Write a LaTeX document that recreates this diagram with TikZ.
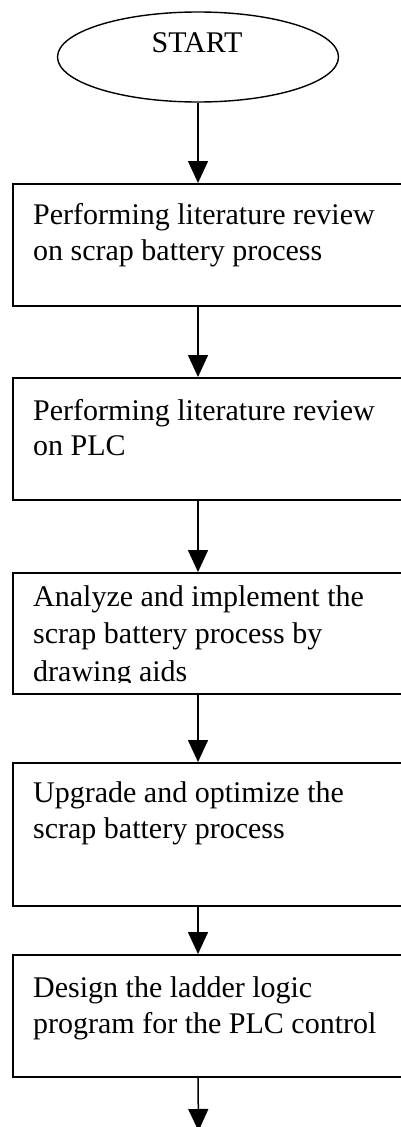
\documentclass[tikz,border=0pt]{standalone}
\usepackage{fontspec}
\setmainfont{Liberation Serif}
\usetikzlibrary{shapes.geometric,arrows.meta}

\tikzset{
  stepbox/.style={draw=black, line width=1.6pt, rectangle, anchor=north west,
                  minimum width=420pt, inner sep=0pt},
  oval/.style={draw=black, line width=1.4pt, ellipse, minimum width=281pt,
               minimum height=90pt, inner sep=0pt},
  txt/.style={anchor=base west, inner sep=0pt, font=\fontsize{30}{36}\selectfont},
  flow/.style={line width=1.5pt, -{Triangle[length=22pt, width=20pt]}},
}

\begin{document}
\begin{tikzpicture}[x=1pt, y=-1pt]
  \useasboundingbox (0,0) rectangle (401,1127);
  \fill[white] (0,0) rectangle (401,1127);
  \clip (0,0) rectangle (401,1127);

  % start terminal
  \node[oval] (start) at (198,57) {};
  \node[anchor=base, inner sep=0pt, font=\fontsize{30}{36}\selectfont] (startlbl) at (197,52) {START};

  % process boxes (they run past the right edge of the page)
  \node[stepbox, minimum height=122pt] (b1) at (12,183) {};
  \node[stepbox, minimum height=122pt] (b2) at (12,377) {};
  \node[stepbox, minimum height=121pt] (b3) at (12,572) {};
  \node[stepbox, minimum height=143pt] (b4) at (12,762) {};
  \node[stepbox, minimum height=122pt] (b5) at (12,954) {};
  \coordinate (end) at (198.5,1131);

  % box texts
  \node[txt] (t1a) at (33,224) {Performing literature review};
  \node[txt] (t1b) at (33,260) {on scrap battery process};

  \node[txt] (t2a) at (33,420) {Performing literature review};
  \node[txt] (t2b) at (33,455) {on PLC};

  \node[txt] (t3a) at (33,606) {Analyze and implement the};
  \node[txt] (t3b) at (33,643) {scrap battery process by};
  \begin{scope}
    \clip (12,572) rectangle (401,682);
    \node[txt] (t3c) at (33,681) {drawing aids};
  \end{scope}

  \node[txt] (t4a) at (33,802) {Upgrade and optimize the};
  \node[txt] (t4b) at (33,838) {scrap battery process};

  \node[txt] (t5a) at (33,997) {Design the ladder logic};
  \node[txt] (t5b) at (33,1033) {program for the PLC control};

  % connectors
  \draw[flow] (start.south) -- (start.south |- b1.north);
  \draw[flow] (start.south |- b1.south) -- (start.south |- b2.north);
  \draw[flow] (start.south |- b2.south) -- (start.south |- b3.north);
  \draw[flow] (start.south |- b3.south) -- (start.south |- b4.north);
  \draw[flow] (start.south |- b4.south) -- (start.south |- b5.north);
  \draw[flow] (start.south |- b5.south) -- (end);
\end{tikzpicture}
\end{document}
